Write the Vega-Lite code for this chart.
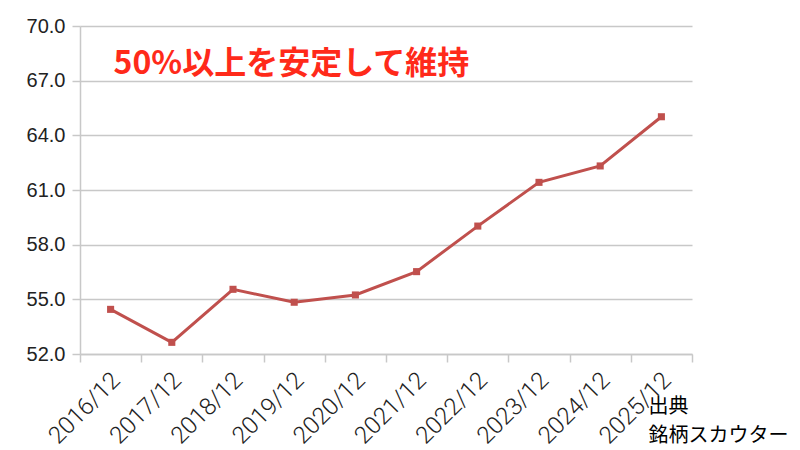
{
  "$schema": "https://vega.github.io/schema/vega-lite/v6.json",
  "autosize": {"type": "none"},
  "width": 612,
  "height": 328,
  "padding": {"left": 80, "top": 26, "right": 108, "bottom": 96},
  "background": "white",
  "config": {
    "view": {"stroke": null},
    "axis": {"labelFont": "Liberation Sans", "labelColor": "#222222"}
  },
  "layer": [
    {
      "data": {
        "values": [
          {"period": "2016/12", "value": 54.45},
          {"period": "2017/12", "value": 52.64},
          {"period": "2018/12", "value": 55.55},
          {"period": "2019/12", "value": 54.84},
          {"period": "2020/12", "value": 55.24},
          {"period": "2021/12", "value": 56.52},
          {"period": "2022/12", "value": 59.02},
          {"period": "2023/12", "value": 61.42},
          {"period": "2024/12", "value": 62.32},
          {"period": "2025/12", "value": 65.02}
        ]
      },
      "mark": {
        "type": "line",
        "color": "#c0504d",
        "strokeWidth": 3,
        "point": {"shape": "square", "size": 50, "filled": true, "color": "#c0504d", "opacity": 1}
      },
      "encoding": {
        "x": {
          "field": "period",
          "type": "ordinal",
          "scale": {"paddingInner": 0, "paddingOuter": 0},
          "axis": {
            "title": ["出典", "銘柄スカウター"],
            "titleFont": "Noto Sans CJK JP",
            "titleFontSize": 20,
            "titleFontWeight": "normal",
            "titleColor": "#000000",
            "titleAlign": "left",
            "titleBaseline": "top",
            "titleAnchor": "start",
            "titleX": 568,
            "titleY": 42,
            "titleLineHeight": 29,
            "labelAngle": -45,
            "labelFont": "Roboto",
            "labelFontWeight": 300,
            "labelFontSize": 24,
            "labelPadding": 6,
            "labelOffset": -3,
            "tickBand": "extent",
            "tickSize": 8,
            "tickColor": "#c8c8c8",
            "tickWidth": 1.5,
            "domainColor": "#c8c8c8",
            "domainWidth": 1.5,
            "grid": false
          }
        },
        "y": {
          "field": "value",
          "type": "quantitative",
          "scale": {"domain": [52, 70], "nice": false, "zero": false},
          "axis": {
            "title": null,
            "values": [52, 55, 58, 61, 64, 67, 70],
            "format": ".1f",
            "labelFontSize": 20,
            "labelPadding": 7,
            "tickSize": 8,
            "tickColor": "#c8c8c8",
            "tickWidth": 1.5,
            "domainColor": "#c8c8c8",
            "domainWidth": 1.5,
            "grid": true,
            "gridColor": "#c8c8c8",
            "gridWidth": 1.5
          }
        }
      }
    },
    {
      "data": {"values": [{"note": "50%以上を安定して維持"}]},
      "mark": {
        "type": "text",
        "align": "left",
        "baseline": "middle",
        "dx": 3,
        "font": "Noto Sans CJK JP",
        "fontWeight": "bold",
        "fontSize": 32,
        "color": "#ff2a1a"
      },
      "encoding": {
        "x": {"datum": "2016/12", "type": "ordinal"},
        "y": {"datum": 67.94, "type": "quantitative"},
        "text": {"field": "note"}
      }
    }
  ]
}
